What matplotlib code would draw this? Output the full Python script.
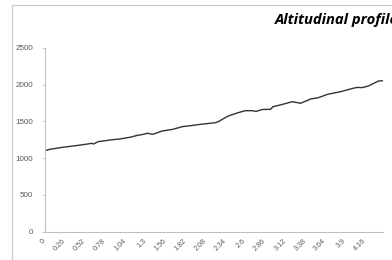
import matplotlib
matplotlib.use("Agg")
import matplotlib.pyplot as plt
from matplotlib.patches import Rectangle

# Data
distance_km = [0.00, 0.065, 0.23, 0.46, 0.61, 0.63, 0.69, 0.85, 0.98, 1.11, 1.20, 1.25,
               1.33, 1.40, 1.52, 1.66, 1.78, 1.89, 2.02, 2.21, 2.25, 2.38, 2.51, 2.60,
               2.70, 2.74, 2.82, 2.93, 2.96, 3.09, 3.21, 3.32, 3.45, 3.55, 3.67, 3.84,
               4.00, 4.06, 4.12, 4.20, 4.33, 4.39]
elevation_m = [1101, 1120, 1147, 1178, 1201, 1192, 1224, 1247, 1262, 1285, 1310, 1318,
               1338, 1324, 1369, 1392, 1428, 1442, 1460, 1482, 1496, 1574, 1619, 1646,
               1646, 1635, 1662, 1665, 1700, 1733, 1769, 1747, 1805, 1823, 1869, 1905,
               1951, 1963, 1960, 1982, 2050, 2054]
x_ticks = [0, 0.26, 0.52, 0.78, 1.04, 1.3, 1.56, 1.82, 2.08, 2.34, 2.6, 2.86,
           3.12, 3.38, 3.64, 3.9, 4.16]
x_tick_labels = ["0", "0.26", "0.52", "0.78", "1.04", "1.3", "1.56", "1.82", "2.08",
                 "2.34", "2.6", "2.86", "3.12", "3.38", "3.64", "3.9", "4.16"]
y_ticks = [0, 500, 1000, 1500, 2000, 2500]
title = "Altitudinal profile"

W, H = 392, 260
fig = plt.figure(figsize=(W / 100, H / 100), dpi=100)
fig.patch.set_facecolor("white")

# chart frame (clipped by the image edges)
fig.patches.append(Rectangle((12 / W, -0.1), 1.2, (H - 5) / H + 0.1,
                             transform=fig.transFigure, fill=False,
                             edgecolor="#c8c8c8", linewidth=0.8))

ax = fig.add_axes([45 / W, (H - 231.5) / H, (383 - 45) / W, (231.5 - 48) / H])
ax.plot(distance_km, elevation_m, color="#333333", linewidth=1.0)
ax.set_xlim(0, 4.39)
ax.set_ylim(0, 2500)
ax.set_yticks(y_ticks)
ax.set_yticklabels([str(v) for v in y_ticks], fontsize=5.8, color="#595959",
                   family="Liberation Sans")
ax.set_xticks(x_ticks)
ax.set_xticklabels(x_tick_labels, fontsize=5.2, color="#595959",
                   family="Liberation Sans", rotation=45, ha="right",
                   va="center", rotation_mode="anchor")
for s in ["top", "right"]:
    ax.spines[s].set_visible(False)
for s in ["left", "bottom"]:
    ax.spines[s].set_color("#bfbfbf")
    ax.spines[s].set_linewidth(0.8)
ax.tick_params(axis="y", length=2.5, width=0.6, color="#bfbfbf", pad=6)
ax.tick_params(axis="x", length=0, pad=6)

fig.text(275 / W, (H - 24) / H, title, fontsize=10.6, fontweight="bold",
         fontstyle="italic", family="Open Sans", ha="left", va="baseline",
         color="black")

fig.savefig("out.png", dpi=100)
